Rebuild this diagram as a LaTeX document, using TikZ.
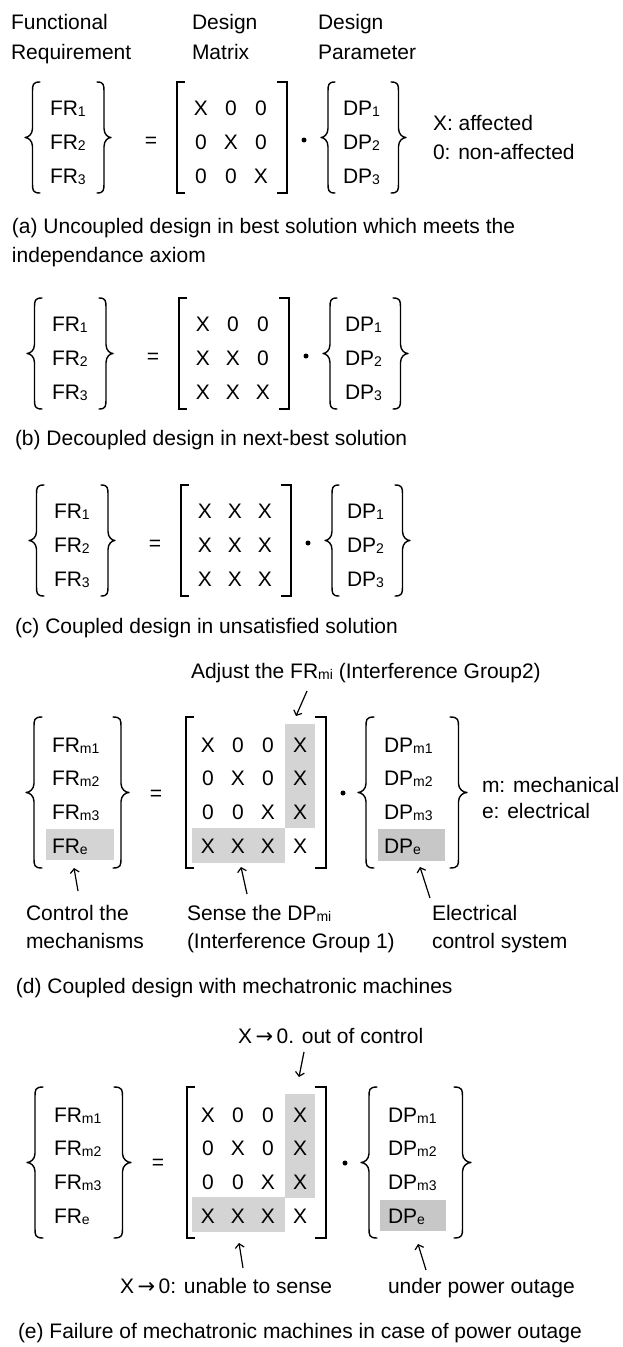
\documentclass[tikz,border=0pt]{standalone}
\usepackage{fontspec}
\setmainfont{Liberation Sans}
\newfontfamily\arrfont{DejaVu Sans}
\usetikzlibrary{arrows.meta}
\newcommand{\sbs}[1]{{\fontsize{14}{14}\selectfont\raisebox{-1.5pt}{#1}}}
\newcommand{\toarr}{\,{\arrfont\fontsize{21}{21}\selectfont →}\,}
\newcommand{\mybrace}[4]{%
 \draw[brc] ({#1+(#2)},{#3}) .. controls ({#1+0.5*(#2)},{#3}) and ({#1+0.5*(#2)},{#3+3}) .. ({#1+0.5*(#2)},{#3+10})
 -- ({#1+0.5*(#2)},{(#3+#4)/2-9}) .. controls ({#1+0.5*(#2)},{(#3+#4)/2-3}) and ({#1+0.2*(#2)},{(#3+#4)/2}) .. ({#1},{(#3+#4)/2})
 .. controls ({#1+0.2*(#2)},{(#3+#4)/2}) and ({#1+0.5*(#2)},{(#3+#4)/2+3}) .. ({#1+0.5*(#2)},{(#3+#4)/2+9})
 -- ({#1+0.5*(#2)},{#4-10}) .. controls ({#1+0.5*(#2)},{#4-3}) and ({#1+0.5*(#2)},{#4}) .. ({#1+(#2)},{#4});}
\newcommand{\mybrack}[4]{\draw[brk] ({#1+(#2)},{#3}) -- ({#1},{#3}) -- ({#1},{#4}) -- ({#1+(#2)},{#4});}
\newcommand{\mrow}[6]{\node[ent] (#1#2a) at (201,#3) {#4}; \node[ent] (#1#2b) at (231,#3) {#5}; \node[ent] (#1#2c) at (261,#3) {#6};}
\newcommand{\mrowf}[7]{\node[ent] (#1#2a) at (208,#3) {#4}; \node[ent] (#1#2b) at (238,#3) {#5}; \node[ent] (#1#2c) at (268,#3) {#6}; \node[ent] (#1#2d) at (300,#3) {#7};}
\newcommand{\simplesec}[1]{%
 \mybrace{25}{15}{82}{193}
 \mybrace{111}{-14}{82}{193}
 \node[lbl] (#1fr1) at (50,115) {FR\sbs{1}};
 \node[lbl] (#1fr2) at (50,149) {FR\sbs{2}};
 \node[lbl] (#1fr3) at (50,183) {FR\sbs{3}};
 \node[ent] (#1eq) at (151,147) {=};
 \mybrack{177}{8}{82}{193}
 \mybrack{287}{-10}{82}{193}
 \node[dotn] (#1dot) at (304,140) {};
 \mybrace{321}{14}{82}{193}
 \mybrace{406}{-15}{82}{193}
 \node[lbl] (#1dp1) at (343,115) {DP\sbs{1}};
 \node[lbl] (#1dp2) at (343,149) {DP\sbs{2}};
 \node[lbl] (#1dp3) at (343,183) {DP\sbs{3}};
}
\tikzset{
 lbl/.style={inner sep=0pt, outer sep=0pt, anchor=base west, font=\fontsize{21}{29}\selectfont},
 ent/.style={lbl, anchor=base},
 gbox/.style={fill=black!17, draw=none, inner sep=0pt, outer sep=0pt},
 dotn/.style={circle, fill=black, inner sep=0pt, minimum size=5pt},
 brc/.style={line width=1.4pt, line cap=round, line join=round},
 brk/.style={line width=1.7pt, line join=miter},
 arr/.style={line width=1.2pt, -{Straight Barb[length=4pt,width=9pt]}}
}
\begin{document}
\begin{tikzpicture}[x=1pt,y=-1pt]
\fill[white] (0,0) rectangle (622,1347);
\useasboundingbox (0,0) rectangle (622,1347);

% header
\node[lbl] (hfr1) at (11,29) {Functional};
\node[lbl] (hfr2) at (11,59) {Requirement};
\node[lbl] (hdm1) at (192,29) {Design};
\node[lbl] (hdm2) at (192,59) {Matrix};
\node[lbl] (hdp1) at (318,29) {Design};
\node[lbl] (hdp2) at (318,59) {Parameter};

% (a)
\begin{scope}
\simplesec{a}
\mrow{a}{1}{115}{X}{0}{0}
\mrow{a}{2}{149}{0}{X}{0}
\mrow{a}{3}{183}{0}{0}{X}
\end{scope}
\node[lbl] (lega) at (433,130) {X: affected};
\node[lbl] (legb) at (433,159) {0: non-affected};
\node[lbl] (capa1) at (12,233) {(a) Uncoupled design in best solution which meets the};
\node[lbl] (capa2) at (12,262) {independance axiom};

% (b)
\begin{scope}[shift={(2,216)}]
\simplesec{b}
\mrow{b}{1}{115}{X}{0}{0}
\mrow{b}{2}{149}{X}{X}{0}
\mrow{b}{3}{183}{X}{X}{X}
\end{scope}
\node[lbl] (capb) at (15,445) {(b) Decoupled design in next-best solution};

% (c)
\begin{scope}[shift={(4,403)}]
\simplesec{c}
\mrow{c}{1}{115}{X}{X}{X}
\mrow{c}{2}{149}{X}{X}{X}
\mrow{c}{3}{183}{X}{X}{X}
\end{scope}
\node[lbl] (capc) at (15,633) {(c) Coupled design in unsatisfied solution};

% (d)
\node[gbox, minimum width=30pt, minimum height=104pt] (dcol) at (300,776) {};
\node[gbox, minimum width=93pt, minimum height=35pt] (drow) at (238.5,845.5) {};
\node[gbox, minimum width=68pt, minimum height=31pt] (dfre) at (80,844.5) {};
\node[gbox, fill=black!22, minimum width=67pt, minimum height=32pt] (ddpe) at (411.5,845) {};
\node[lbl] (adj) at (191,678) {Adjust the FR\sbs{mi} (Interference Group2)};
\mybrace{26}{16}{717}{868}
\mybrace{129}{-16}{717}{868}
\node[lbl] (dfr1) at (52,752) {FR\sbs{m1}};
\node[lbl] (dfr2) at (52,785) {FR\sbs{m2}};
\node[lbl] (dfr3) at (52,819) {FR\sbs{m3}};
\node[lbl] (dfr4) at (52,853) {FR\sbs{e}};
\node[ent] (deq) at (156,800) {=};
\mybrack{186}{8}{717}{868}
\mybrack{326}{-11}{717}{868}
\mrowf{d}{1}{752}{X}{0}{0}{X}
\mrowf{d}{2}{785}{0}{X}{0}{X}
\mrowf{d}{3}{819}{0}{0}{X}{X}
\mrowf{d}{4}{853}{X}{X}{X}{X}
\node[dotn] (ddot) at (343,793) {};
\mybrace{358}{16}{717}{868}
\mybrace{467}{-17}{717}{868}
\node[lbl] (ddp1) at (384,752) {DP\sbs{m1}};
\node[lbl] (ddp2) at (384,785) {DP\sbs{m2}};
\node[lbl] (ddp3) at (384,819) {DP\sbs{m3}};
\node[lbl] (ddp4) at (384,853) {DP\sbs{e}};
\node[lbl] (mmech) at (482,792) {m: mechanical};
\node[lbl] (eelec) at (482,818) {e: electrical};
\node[lbl] (ctl1) at (26,920) {Control the};
\node[lbl] (ctl2) at (26,948) {mechanisms};
\node[lbl] (sns1) at (187,920) {Sense the DP\sbs{mi}};
\node[lbl] (sns2) at (187,948) {(Interference Group 1)};
\node[lbl] (elc1) at (432,920) {Electrical};
\node[lbl] (elc2) at (432,948) {control system};
\coordinate (adjS) at (307,691);
\coordinate (adjE) at (296,716);
\coordinate (ctlS) at (78,891);
\coordinate (ctlE) at (74,868);
\coordinate (snsS) at (247,894);
\coordinate (snsE) at (241,867);
\coordinate (elcS) at (430,898);
\coordinate (elcE) at (420,867);
\draw[arr] (adjS) -- (adjE);
\draw[arr] (ctlS) -- (ctlE);
\draw[arr] (snsS) -- (snsE);
\draw[arr] (elcS) -- (elcE);
\node[lbl] (capd) at (16,993) {(d) Coupled design with mechatronic machines};

% (e)
\node[gbox, minimum width=30pt, minimum height=104pt] (ecol) at (300,1146) {};
\node[gbox, minimum width=93pt, minimum height=35pt] (erow) at (238.5,1214.5) {};
\node[gbox, fill=black!22, minimum width=66pt, minimum height=31pt] (edpe) at (413,1215.5) {};
\node[lbl] (ooc) at (238,1043) {X\toarr 0. out of control};
\mybrace{27}{16}{1087}{1238}
\mybrace{131}{-17}{1087}{1238}
\node[lbl] (efr1) at (54,1122) {FR\sbs{m1}};
\node[lbl] (efr2) at (54,1155) {FR\sbs{m2}};
\node[lbl] (efr3) at (54,1189) {FR\sbs{m3}};
\node[lbl] (efr4) at (54,1223) {FR\sbs{e}};
\node[ent] (eeq) at (158,1169) {=};
\mybrack{187}{8}{1087}{1238}
\mybrack{326}{-11}{1087}{1238}
\mrowf{e}{1}{1122}{X}{0}{0}{X}
\mrowf{e}{2}{1155}{0}{X}{0}{X}
\mrowf{e}{3}{1189}{0}{0}{X}{X}
\mrowf{e}{4}{1223}{X}{X}{X}{X}
\node[dotn] (edot) at (345,1163) {};
\mybrace{361}{16}{1087}{1238}
\mybrace{471}{-17}{1087}{1238}
\node[lbl] (edp1) at (388,1122) {DP\sbs{m1}};
\node[lbl] (edp2) at (388,1155) {DP\sbs{m2}};
\node[lbl] (edp3) at (388,1189) {DP\sbs{m3}};
\node[lbl] (edp4) at (388,1223) {DP\sbs{e}};
\node[lbl] (uns) at (120,1293) {X\toarr 0: unable to sense};
\node[lbl] (upo) at (388,1293) {under power outage};
\coordinate (oocS) at (304,1052);
\coordinate (oocE) at (299,1077);
\coordinate (unsS) at (243,1268);
\coordinate (unsE) at (239,1243);
\coordinate (upoS) at (426,1270);
\coordinate (upoE) at (418,1244);
\draw[arr] (oocS) -- (oocE);
\draw[arr] (unsS) -- (unsE);
\draw[arr] (upoS) -- (upoE);
\node[lbl] (cape) at (18,1338) {(e) Failure of mechatronic machines in case of power outage};
\end{tikzpicture}
\end{document}
